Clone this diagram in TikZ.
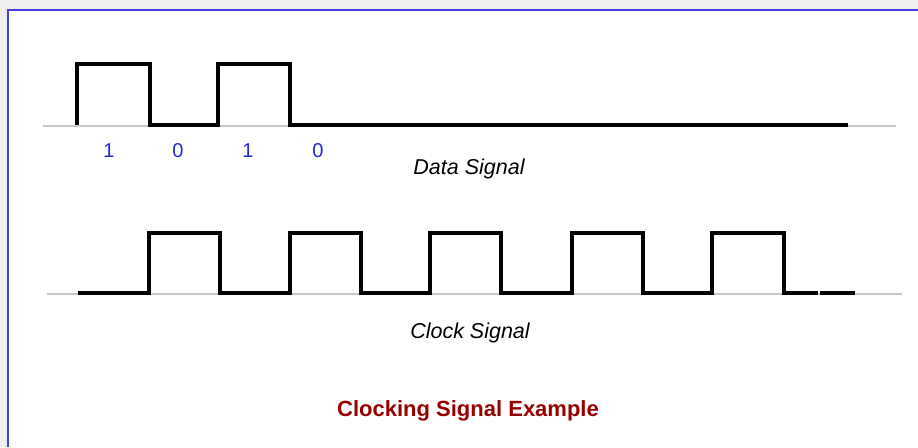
\documentclass[tikz,border=0pt]{standalone}
\usepackage{fontspec}
\setmainfont{Liberation Sans}
\definecolor{frameblue}{RGB}{64,64,224}
\definecolor{digitblue}{RGB}{40,40,210}
\definecolor{titlered}{RGB}{150,0,0}
\definecolor{axisgrey}{RGB}{200,200,200}
\definecolor{outgrey}{RGB}{238,238,238}
\tikzset{
  wave/.style={line width=3.2pt, black, line join=miter},
  axis/.style={line width=1.3pt, axisgrey},
  digit/.style={text=digitblue, font=\fontsize{20}{20}\selectfont, inner sep=0pt},
  caption/.style={font=\fontsize{21.5}{21}\selectfont\itshape, inner sep=0pt},
  title/.style={text=titlered, font=\fontsize{22}{22}\selectfont\bfseries, inner sep=0pt}
}
\begin{document}
\begin{tikzpicture}[x=1pt,y=-1pt]
\useasboundingbox (0,0) rectangle (918,447);
\fill[outgrey] (0,0) rectangle (918,447);
\fill[white] (8,10) rectangle (918,447);
\draw[frameblue, line width=2pt] (8,447) -- (8,10) -- (918,10);
% data signal
\coordinate (da) at (43,126);
\coordinate (db) at (896,126);
\draw[axis] (da) -- (db);
\draw[wave] (77,125) -- (77,64) -- (150,64) -- (150,125) -- (218,125) -- (218,64) -- (290,64) -- (290,125) -- (848,125);
\node[digit] (d1) at (109,151) {1};
\node[digit] (d2) at (178,151) {0};
\node[digit] (d3) at (248,151) {1};
\node[digit] (d4) at (318,151) {0};
\node[caption] (dl) at (469,169) {Data Signal};
% clock signal
\coordinate (ca) at (47,294);
\coordinate (cb) at (902,294);
\draw[axis] (ca) -- (cb);
\draw[wave] (78,293) -- (149,293) -- (149,233) -- (220,233) -- (220,293) -- (290,293) -- (290,233) -- (361,233) -- (361,293) -- (430,293) -- (430,233) -- (501,233) -- (501,293) -- (572,293) -- (572,233) -- (643,233) -- (643,293) -- (712,293) -- (712,233) -- (784,233) -- (784,293) -- (818,293);
\draw[wave] (820,293) -- (855,293);
\node[caption] (cl) at (470,333) {Clock Signal};
\node[title] (tt) at (468,411) {Clocking Signal Example};
\end{tikzpicture}
\end{document}
